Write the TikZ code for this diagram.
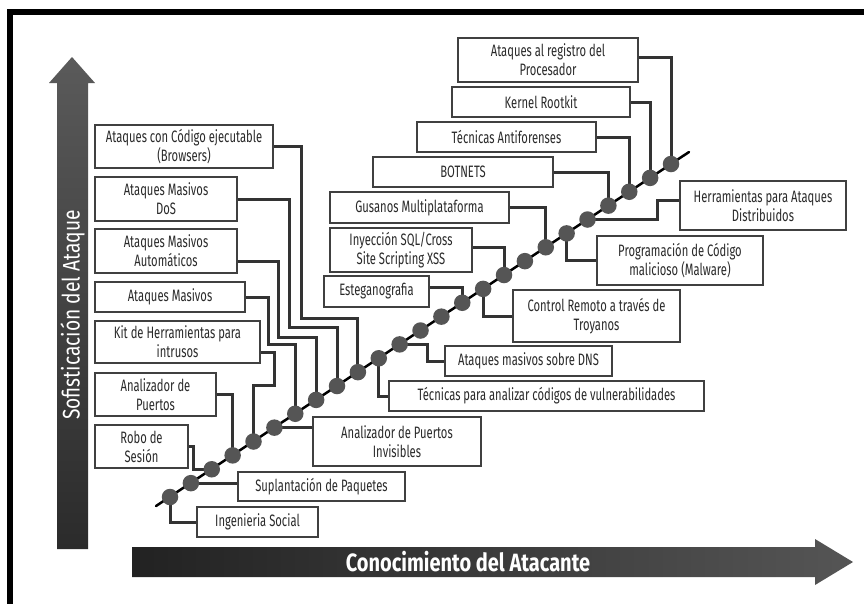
\documentclass[tikz,border=0pt]{standalone}
\usepackage{fontspec}
\newfontfamily\boxfont[FakeStretch=0.68]{Fira Sans}
\newfontfamily\arrowfont[FakeStretch=0.8]{Fira Sans}
\definecolor{boxc}{HTML}{404040}
\definecolor{connc}{HTML}{333333}
\definecolor{beadc}{HTML}{555555}
\definecolor{txt}{HTML}{2A2A2A}
\definecolor{vaT}{HTML}{5A5A5A}
\definecolor{vaB}{HTML}{2B2B2B}
\definecolor{haL}{HTML}{222222}
\definecolor{haR}{HTML}{555555}
\begin{document}
\begin{tikzpicture}[x=1pt,y=-1pt,
  box/.style={draw=boxc, line width=1.4pt, fill=white, inner sep=0pt, align=center,
    font=\boxfont\fontsize{16.5}{19}\selectfont, text=txt},
  conn/.style={draw=connc, line width=3pt},
  bead/.style={circle, fill=beadc, minimum size=16.5pt, inner sep=0pt}]
\useasboundingbox (0,0) rectangle (864,603);
\clip (0,0) rectangle (864,603);
\fill[white] (0,0) rectangle (864,603);
\draw[line width=6pt] (10,12) rectangle (880,620);

% axis arrows
\shade[top color=vaT, bottom color=vaB] (57,549) -- (57,83) -- (49,83) -- (72,57) -- (95,83) -- (88,83) -- (88,549) -- cycle;
\shade[left color=haL, right color=haR] (132,547) -- (815,547) -- (815,539) -- (853,562) -- (815,585) -- (815,577) -- (132,577) -- cycle;
\node[rotate=90, text=white, font=\arrowfont\fontsize{24}{24}\selectfont] (vlabel) at (72.5,315) {Sofisticación del Ataque};
\node[text=white, font=\arrowfont\bfseries\fontsize{25}{25}\selectfont] (hlabel) at (468,562) {Conocimiento del Atacante};

% boxes
\node[box, minimum width=178pt, minimum height=43pt] (code) at (184,146.5) {Ataques con Código ejecutable\\(Browsers)};
\node[box, minimum width=142pt, minimum height=44pt] (dos) at (166,199) {Ataques Masivos\\DoS};
\node[box, minimum width=142pt, minimum height=44pt] (auto) at (166,251) {Ataques Masivos\\Automáticos};
\node[box, minimum width=150pt, minimum height=30pt] (masivos) at (170,297) {Ataques Masivos};
\node[box, minimum width=165pt, minimum height=42pt] (kit) at (177.5,342) {Kit de Herramientas para\\intrusos};
\node[box, minimum width=121pt, minimum height=43pt] (apuertos) at (155.5,394.5) {Analizador de\\Puertos};
\node[box, minimum width=93pt, minimum height=43pt] (robo) at (141.5,446.5) {Robo de\\Sesión};
\node[box, minimum width=180pt, minimum height=44pt] (registro) at (548,60) {Ataques al registro del\\Procesador};
\node[box, minimum width=178pt, minimum height=30pt] (kernel) at (541,102) {Kernel Rootkit};
\node[box, minimum width=179pt, minimum height=30pt] (antif) at (506.5,137) {Técnicas Antiforenses};
\node[box, minimum width=180pt, minimum height=30pt] (botnets) at (463,172) {BOTNETS};
\node[box, minimum width=179pt, minimum height=31pt] (gusanos) at (419.5,207.5) {Gusanos Multiplataforma};
\node[box, minimum width=142pt, minimum height=44pt] (inyeccion) at (401,250) {Inyección SQL/Cross\\Site Scripting XSS};
\node[box, minimum width=105pt, minimum height=31pt] (estega) at (376.5,291.5) {Esteganografia};
\node[box, minimum width=166pt, minimum height=49pt] (herram) at (763,205.5) {Herramientas para Ataques\\Distribuidos};
\node[box, minimum width=166pt, minimum height=49pt] (program) at (680,260.5) {Programación de Código\\malicioso (Malware)};
\node[box, minimum width=167pt, minimum height=52pt] (control) at (596.5,316) {Control Remoto a través de\\Troyanos};
\node[box, minimum width=167pt, minimum height=30pt] (dns) at (528.5,361) {Ataques masivos sobre DNS};
\node[box, minimum width=315pt, minimum height=30pt] (tecnicas) at (546.5,396) {Técnicas para analizar códigos de vulnerabilidades};
\node[box, minimum width=168pt, minimum height=49pt] (invisibles) at (397,441.5) {Analizador de Puertos\\Invisibles};
\node[box, minimum width=167pt, minimum height=29pt] (suplant) at (321.5,486.5) {Suplantación de Paquetes};
\node[box, minimum width=121pt, minimum height=30pt] (ingenieria) at (257.5,522) {Ingenieria Social};

% diagonal line and bead positions
\coordinate (ds) at (156,506);
\coordinate (de) at (689,152);
\draw[line width=2.5pt, line cap=round] (ds) -- (de);
\foreach \i in {1,...,25} \coordinate (d\i) at ({170+(\i-1)*20.875},{497-(\i-1)*13.875});

% connectors
\draw[conn] (d1) |- (ingenieria.west);
\draw[conn] (d2) -- (d2 -| suplant.west);
\draw[conn] (robo.east) -- ++(5,0) |- (d3);
\draw[conn] (apuertos.east) -| (d4);
\draw[conn] ([yshift=-10pt]kit.east) -- ++(14,0) -- ++(0,33) -| (d5);
\draw[conn] (d6) -- (d6 -| invisibles.west);
\draw[conn] (masivos.east) -- ++(23,0) -- ++(0,47) -| (d7);
\draw[conn] ([yshift=-10pt]auto.east) -- ++(41,0) -- ++(0,76) -| (d8);
\draw[conn] (dos.east) -- ++(52,0) -- ++(0,128) -| (d9);
\draw[conn] (code.east) -- ++(28,0) -- ++(0,172) -| (d10);
\draw[conn] (d11) |- (tecnicas.west);
\draw[conn] (d12) -- ++(28,0) |- (dns.west);
\draw[conn] ([yshift=4pt]estega.east) -| (d15);
\draw[conn] (d16) |- (control.west);
\draw[conn] ([yshift=3pt]inyeccion.east) -| (d17);
\draw[conn] (gusanos.east) -| (d19);
\draw[conn] (d20) |- (program.west);
\draw[conn] (d21) -- ++(70,0) |- ([yshift=5pt]herram.west);
\draw[conn] (botnets.east) -| (d22);
\draw[conn] (antif.east) -| (d23);
\draw[conn] (kernel.east) -| (d24);
\draw[conn] ([yshift=3pt]registro.east) -| (d25);

% beads
\foreach \i in {1,...,25} \node[bead] (p\i) at (d\i) {};
\end{tikzpicture}
\end{document}
